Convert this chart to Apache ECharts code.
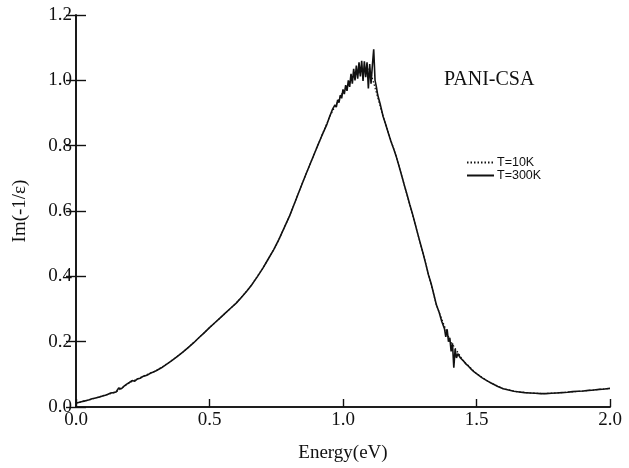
<!DOCTYPE html>
<html>
<head>
<meta charset="utf-8">
<script src="https://cdn.jsdelivr.net/npm/echarts@6/dist/echarts.min.js"></script>
<style>
  html, body { margin: 0; padding: 0; background: #fff; }
  #chart { width: 629px; height: 468px; }
</style>
</head>
<body>
<div id="chart"></div>
<script>
// Energy-loss function Im(-1/eps) of PANI-CSA at two temperatures
const energy300 = [
  0.00, 0.01, 0.02, 0.03, 0.04, 0.05, 0.06, 0.07, 0.08, 0.09,
  0.10, 0.11, 0.12, 0.13, 0.14, 0.15, 0.16, 0.17, 0.18, 0.19,
  0.20, 0.21, 0.22, 0.23, 0.24, 0.25, 0.26, 0.27, 0.28, 0.29, 0.30,
  0.32, 0.34, 0.36, 0.38, 0.40, 0.42, 0.44, 0.46, 0.48, 0.50,
  0.52, 0.54, 0.56, 0.58, 0.60, 0.62, 0.64, 0.66, 0.68, 0.70,
  0.72, 0.74, 0.76, 0.78, 0.80, 0.82, 0.84, 0.86, 0.88, 0.90,
  0.92, 0.94,
  0.950, 0.955, 0.960, 0.965, 0.970, 0.975, 0.980, 0.985, 0.990, 0.995,
  1.000, 1.005, 1.010, 1.015, 1.020, 1.025, 1.030, 1.035, 1.040, 1.045,
  1.050, 1.055, 1.060, 1.065, 1.070, 1.075, 1.080, 1.085, 1.090, 1.095,
  1.100, 1.105, 1.110, 1.115, 1.120, 1.125, 1.130,
  1.14, 1.15, 1.16, 1.17, 1.18, 1.19, 1.20, 1.21, 1.22, 1.23,
  1.24, 1.25, 1.26, 1.27, 1.28, 1.29, 1.30, 1.31, 1.32, 1.33,
  1.34, 1.35, 1.36, 1.37, 1.38,
  1.385, 1.390, 1.395, 1.400, 1.405, 1.410, 1.415, 1.420, 1.425, 1.430,
  1.44, 1.45, 1.46, 1.47, 1.48, 1.49, 1.50,
  1.52, 1.54, 1.56, 1.58, 1.60, 1.62, 1.64, 1.66, 1.68, 1.70,
  1.72, 1.74, 1.76, 1.78, 1.80, 1.82, 1.84, 1.86, 1.88, 1.90,
  1.92, 1.94, 1.96, 1.98, 2.00
];
const loss300 = [
  0.012, 0.014, 0.016, 0.018, 0.020, 0.022, 0.025, 0.027, 0.029, 0.031,
  0.034, 0.036, 0.039, 0.043, 0.044, 0.046, 0.058, 0.056, 0.064, 0.070,
  0.075, 0.081, 0.079, 0.086, 0.088, 0.093, 0.096, 0.099, 0.104, 0.107, 0.111,
  0.120, 0.131, 0.143, 0.155, 0.168, 0.182, 0.196, 0.212, 0.227, 0.243,
  0.258, 0.273, 0.288, 0.303, 0.318, 0.336, 0.355, 0.376, 0.400, 0.425,
  0.453, 0.481, 0.513, 0.549, 0.585, 0.627, 0.669, 0.710, 0.750, 0.790,
  0.829, 0.866,
  0.889, 0.893, 0.910, 0.905, 0.925, 0.918, 0.940, 0.932, 0.955, 0.945,
  0.972, 0.958, 0.985, 0.968, 1.000, 0.980, 1.020, 0.990, 1.035, 1.000,
  1.045, 1.005, 1.055, 1.012, 1.060, 0.998, 1.058, 1.010, 1.055, 0.975,
  1.050, 0.990, 1.045, 1.095, 1.000, 0.980, 0.955,
  0.925, 0.890, 0.865, 0.838, 0.812, 0.790, 0.765, 0.737, 0.708, 0.678,
  0.650, 0.620, 0.592, 0.561, 0.530, 0.500, 0.470, 0.438, 0.405, 0.378,
  0.345, 0.312, 0.290, 0.262, 0.240,
  0.215, 0.238, 0.200, 0.212, 0.170, 0.195, 0.120, 0.178, 0.150, 0.163,
  0.150, 0.142, 0.132, 0.125, 0.116, 0.108, 0.102,
  0.090, 0.080, 0.071, 0.063, 0.056, 0.052, 0.048, 0.046, 0.044, 0.043,
  0.042, 0.041, 0.041, 0.042, 0.043, 0.044, 0.045, 0.047, 0.048, 0.049,
  0.051, 0.052, 0.054, 0.055, 0.057
];

const energy10 = [
  0.00, 0.05, 0.10, 0.15, 0.20, 0.25, 0.30, 0.35, 0.40, 0.45,
  0.50, 0.55, 0.60, 0.65, 0.70, 0.75, 0.80, 0.85, 0.90, 0.95,
  1.00, 1.05, 1.10, 1.15, 1.20, 1.25, 1.30, 1.35, 1.40, 1.45,
  1.50, 1.55, 1.60, 1.65, 1.70, 1.75, 1.80, 1.85, 1.90, 1.95, 2.00
];
const loss10 = [
  0.012, 0.022, 0.034, 0.046, 0.074, 0.094, 0.111, 0.137, 0.168, 0.204,
  0.243, 0.280, 0.318, 0.365, 0.425, 0.495, 0.585, 0.690, 0.790, 0.889,
  0.965, 1.020, 1.035, 0.890, 0.765, 0.620, 0.470, 0.312, 0.205, 0.142,
  0.102, 0.075, 0.056, 0.047, 0.043, 0.041, 0.043, 0.046, 0.049, 0.053, 0.057
];

const seriesNames = ['T=10K', 'T=300K'];
const xTicks = { min: 0, max: 2, interval: 0.5 };
const yTicks = { min: 0, max: 1.2, interval: 0.2 };
const sampleName = 'PANI-CSA';
const xTitle = 'Energy(eV)';
const yTitle = 'Im(-1/\u03b5)';

const pairs = (xs, ys) => xs.map((x, i) => [x, ys[i]]);

const serif = '"Liberation Serif", "DejaVu Serif", serif';
const sans = '"Liberation Sans", Arial, sans-serif';
const ink = '#111';

const axisLine = { show: true, lineStyle: { color: ink, width: 1.6 } };

const chart = echarts.init(document.getElementById('chart'), null, { renderer: 'canvas' });
chart.setOption({
  animation: false,
  backgroundColor: '#fff',
  grid: { left: 76, right: 19, top: 15, bottom: 56, containLabel: false },
  legend: {
    show: true,
    orient: 'vertical',
    left: 466,
    top: 156,
    padding: 0,
    itemWidth: 27,
    itemHeight: 10,
    itemGap: 0,
    data: seriesNames,
    itemStyle: { opacity: 0 },
    textStyle: { fontFamily: sans, fontSize: 12.5, lineHeight: 12, color: ink, padding: [0, 0, 0, -2] }
  },
  xAxis: [
    {
      type: 'value',
      min: xTicks.min, max: xTicks.max, interval: xTicks.interval,
      name: xTitle,
      nameLocation: 'middle',
      nameGap: 37,
      nameTextStyle: { fontFamily: serif, fontSize: 19, color: ink },
      axisLine,
      axisTick: { show: true, inside: true, length: 8, lineStyle: { color: ink, width: 1.4 } },
      axisLabel: { fontFamily: serif, fontSize: 19, color: ink, margin: 4,
        formatter: v => v.toFixed(1) },
      splitLine: { show: false }
    },
    {
      type: 'value', position: 'top',
      min: xTicks.min, max: xTicks.max, interval: xTicks.interval,
      axisLine, axisTick: { show: false }, axisLabel: { show: false }, splitLine: { show: false }
    }
  ],
  yAxis: [
    {
      type: 'value',
      min: yTicks.min, max: yTicks.max, interval: yTicks.interval,
      name: yTitle,
      nameLocation: 'middle',
      nameGap: 46,
      nameTextStyle: { fontFamily: serif, fontSize: 19, color: ink },
      axisLine,
      axisTick: { show: true, inside: true, length: 10, lineStyle: { color: ink, width: 1.4 } },
      axisLabel: { fontFamily: serif, fontSize: 19, color: ink, margin: 4,
        formatter: v => v.toFixed(1) },
      splitLine: { show: false }
    },
    {
      type: 'value', position: 'right',
      min: yTicks.min, max: yTicks.max, interval: yTicks.interval,
      axisLine,
      axisTick: { show: true, inside: true, length: 10, lineStyle: { color: ink, width: 1.4 } },
      axisLabel: { show: false }, splitLine: { show: false }
    }
  ],
  graphic: [
    {
      type: 'text',
      left: 444, top: 70,
      style: { text: sampleName, font: '20px ' + serif, fill: ink }
    }
  ],
  series: [
    {
      name: seriesNames[0],
      type: 'line',
      data: pairs(energy10, loss10),
      showSymbol: false,
      symbol: 'none',
      lineStyle: { color: ink, width: 1.2, type: [1.5, 2] },
      itemStyle: { color: ink },
      z: 1
    },
    {
      name: seriesNames[1],
      type: 'line',
      data: pairs(energy300, loss300),
      showSymbol: false,
      symbol: 'none',
      lineStyle: { color: ink, width: 1.6 },
      itemStyle: { color: ink },
      z: 2
    }
  ]
});
</script>
</body>
</html>
